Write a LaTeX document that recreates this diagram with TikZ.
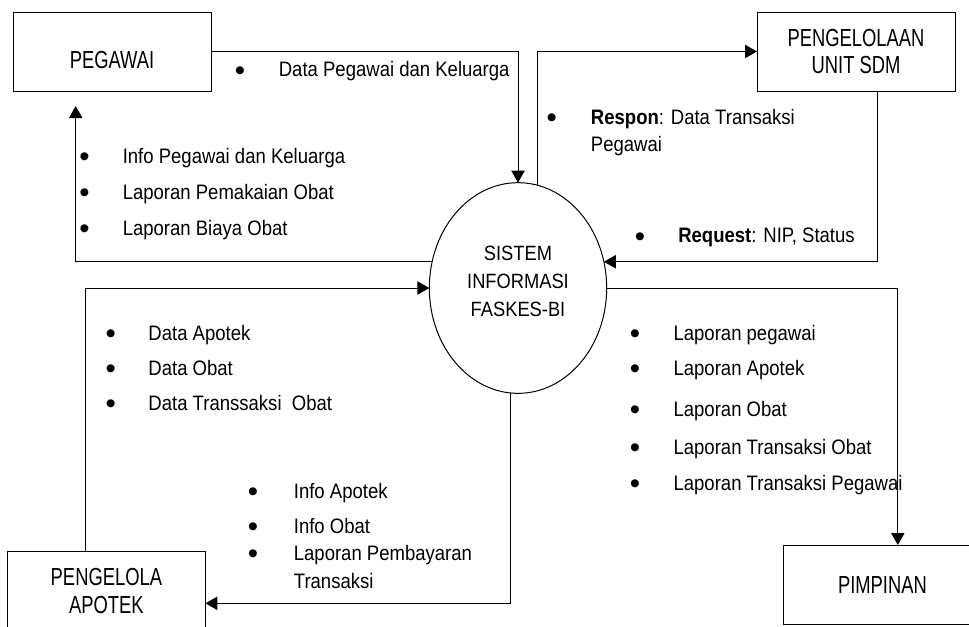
\documentclass[tikz,border=0pt]{standalone}
\usepackage{fontspec}
\setmainfont{Liberation Sans}[FakeStretch=0.885]
\newfontfamily\boxfont{Liberation Sans}[FakeStretch=0.745]
\newfontfamily\bulfont{Liberation Sans}
\usetikzlibrary{arrows.meta,calc,shapes.geometric}
\begin{document}
\begin{tikzpicture}[x=0.75pt,y=-0.75pt,
  flow/.style={draw, line width=0.75pt, -{Triangle[length=9pt,width=10pt]}},
  entity/.style={draw, line width=0.75pt, minimum width=148.5pt, minimum height=59.25pt,
    inner sep=0pt, outer sep=0pt, align=center, font=\boxfont\fontsize{18.5pt}{20.6pt}\selectfont},
  proc/.style={ellipse, draw, line width=0.75pt, minimum width=133pt, minimum height=158pt,
    inner sep=0pt, outer sep=0pt, align=center, font=\fontsize{15.5pt}{21pt}\selectfont},
  lbl/.style={anchor=base west, inner sep=0pt, font=\fontsize{15.7pt}{18pt}\selectfont},
  dot/.style={anchor=base, inner sep=0pt, yshift=-2.5pt, font=\bulfont\fontsize{22pt}{24pt}\selectfont}]
\useasboundingbox (0,0) rectangle (969,626);

% entities and process
\node[entity] (peg) at (112,51.5) {\rule{0pt}{25.2pt}PEGAWAI};
\node[entity] (unit) at (856,51.5) {PENGELOLAAN\\UNIT SDM};
\node[entity] (pim) at (882.4,584.5) {PIMPINAN};
\node[entity, minimum height=58.5pt] (apo) at (106.4,590.8) {PENGELOLA\\APOTEK};
\node[proc] (sis) at (518,288) {SISTEM\\INFORMASI\\FASKES-BI\rule[-10pt]{0pt}{10pt}};

% flows
\draw[flow] (peg.east) -| (sis.north);
\draw[flow] (sis.163) -| ($(peg.south west)+(62.7,15)$);
\draw[flow] (sis.79) |- (unit.west);
\draw[flow] ($(unit.south west)+(120.7,0)$) |- (sis.17);
\draw[flow] (sis.east) -| ($(pim.north west)+(114.4,0)$);
\draw[flow] ($(apo.north west)+(78,0)$) |- (sis.west);
\draw[flow] (sis.266) |- ($(apo.east)+(0,12.5)$);

% labels: PEGAWAI -> sistem
\node[dot] (b1) at (240,76.7) {•};
\node[lbl] (t1) at (278.6,76.7) {Data Pegawai dan Keluarga};

% labels: sistem -> PEGAWAI
\node[dot] (b2) at (84.6,163) {•};
\node[lbl] (t2) at (122.5,163) {Info Pegawai dan Keluarga};
\node[dot] (b3) at (84.6,199) {•};
\node[lbl] (t3) at (122.5,199) {Laporan Pemakaian Obat};
\node[dot] (b4) at (84.6,235) {•};
\node[lbl] (t4) at (122.5,235) {Laporan Biaya Obat};

% labels: respon
\node[dot] (b5) at (551.7,124) {•};
\node[lbl] (t5) at (590.7,124) {\textbf{Respon}: Data Transaksi};
\node[lbl] (t5b) at (590.7,151.7) {Pegawai};

% labels: request
\node[dot] (b6) at (640,242.7) {•};
\node[lbl] (t6) at (678,242.7) {\textbf{Request}: NIP, Status};

% labels: sistem -> PIMPINAN
\node[dot] (b7) at (635,340) {•};
\node[lbl] (t7) at (673.3,340) {Laporan pegawai};
\node[dot] (b8) at (635,375) {•};
\node[lbl] (t8) at (673.3,375) {Laporan Apotek};
\node[dot] (b9) at (635,416.5) {•};
\node[lbl] (t9) at (673.3,416.5) {Laporan Obat};
\node[dot] (b10) at (635,454) {•};
\node[lbl] (t10) at (673.3,454) {Laporan Transaksi Obat};
\node[dot] (b11) at (635,490) {•};
\node[lbl] (t11) at (673.3,490) {Laporan Transaksi Pegawai};

% labels: APOTEK -> sistem
\node[dot] (b12) at (110.7,340) {•};
\node[lbl] (t12) at (148.2,340) {Data Apotek};
\node[dot] (b13) at (110.7,375) {•};
\node[lbl] (t13) at (148.2,375) {Data Obat};
\node[dot] (b14) at (110.7,410) {•};
\node[lbl] (t14) at (148.2,410) {Data Transsaksi\ \ Obat};

% labels: sistem -> APOTEK
\node[dot] (b15) at (252.9,498.3) {•};
\node[lbl] (t15) at (293.6,498.3) {Info Apotek};
\node[dot] (b16) at (252.9,533.3) {•};
\node[lbl] (t16) at (293.6,533.3) {Info Obat};
\node[dot] (b17) at (252.9,560) {•};
\node[lbl] (t17) at (293.6,560) {Laporan Pembayaran};
\node[lbl] (t17b) at (293.6,588.3) {Transaksi};
\end{tikzpicture}
\end{document}
